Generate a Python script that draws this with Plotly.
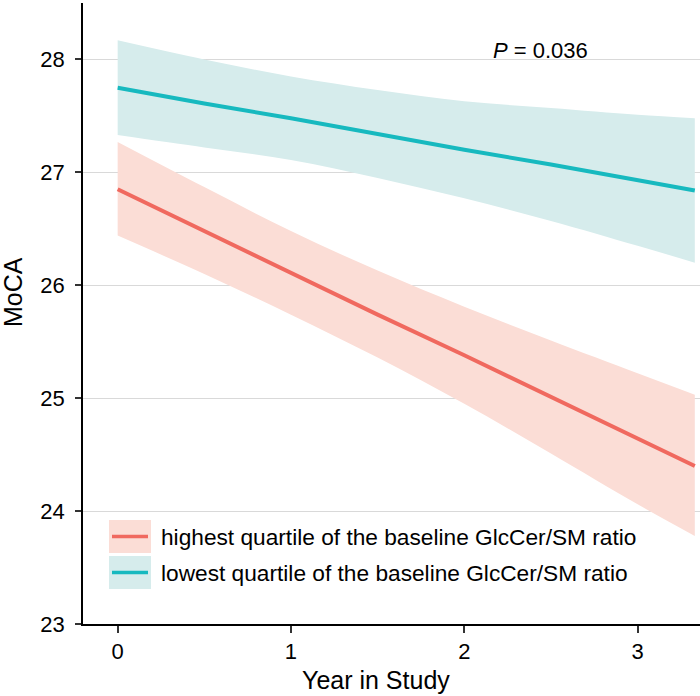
import plotly.graph_objects as go

# ---- data ----
years = [0, 0.5, 1, 1.5, 2, 2.5, 3, 3.33]

high_mean = [26.85, 26.48, 26.11, 25.74, 25.38, 25.01, 24.64, 24.40]
high_upper = [27.27, 26.87, 26.48, 26.13, 25.81, 25.51, 25.22, 25.03]
high_lower = [26.44, 26.10, 25.74, 25.36, 24.95, 24.51, 24.06, 23.78]

low_mean = [27.75, 27.61, 27.48, 27.34, 27.20, 27.07, 26.93, 26.84]
low_upper = [28.17, 28.00, 27.85, 27.73, 27.63, 27.57, 27.51, 27.48]
low_lower = [27.33, 27.22, 27.11, 26.95, 26.77, 26.57, 26.35, 26.20]

x_ticks = [0, 1, 2, 3]
y_ticks = [23, 24, 25, 26, 27, 28]

labels = ["highest quartile of the baseline GlcCer/SM ratio",
          "lowest quartile of the baseline GlcCer/SM ratio"]
p_text = "<i>P</i> = 0.036"

RED = "#F0695F"
TEAL = "#17B9BF"
RED_BAND = "#FBDDD6"
TEAL_BAND = "#D6ECEC"
FONT = "Liberation Sans, Arial, sans-serif"

fig = go.Figure()

def band(upper, lower, color):
    fig.add_trace(go.Scatter(x=years, y=lower, mode="lines", line=dict(width=0, shape="spline"),
                             hoverinfo="skip", showlegend=False))
    fig.add_trace(go.Scatter(x=years, y=upper, mode="lines", line=dict(width=0, shape="spline"),
                             fill="tonexty", fillcolor=color,
                             hoverinfo="skip", showlegend=False))

band(low_upper, low_lower, TEAL_BAND)
band(high_upper, high_lower, RED_BAND)

fig.add_trace(go.Scatter(x=years, y=low_mean, mode="lines",
                         line=dict(color=TEAL, width=4), name=labels[1], showlegend=False))
fig.add_trace(go.Scatter(x=years, y=high_mean, mode="lines",
                         line=dict(color=RED, width=4), name=labels[0], showlegend=False))

# plot area in pixels: x 83..700, y 3..624
L, R, T, B = 83, 700, 3, 624
W, H = R - L, B - T

def px(xp):
    return (xp - L) / W

def py(yp):
    return (B - yp) / H

shapes = []
annotations = []
# manual legend
for i, (fill, line, lab) in enumerate([(RED_BAND, RED, labels[0]), (TEAL_BAND, TEAL, labels[1])]):
    top = 520 + i * 36
    bot = top + 33
    mid = (top + bot) / 2
    shapes.append(dict(type="rect", xref="paper", yref="paper",
                       x0=px(109), x1=px(151), y0=py(bot), y1=py(top),
                       fillcolor=fill, line=dict(width=0), layer="above"))
    shapes.append(dict(type="line", xref="paper", yref="paper",
                       x0=px(112), x1=px(148), y0=py(mid), y1=py(mid),
                       line=dict(color=line, width=3.5), layer="above"))
    annotations.append(dict(xref="paper", yref="paper", x=px(159), y=py(mid),
                            text=lab, showarrow=False, xanchor="left", yanchor="middle",
                            font=dict(size=22.7, color="black", family=FONT)))

annotations.append(dict(xref="paper", yref="paper", x=px(540), y=py(50), text=p_text,
                        showarrow=False, xanchor="center", yanchor="middle",
                        font=dict(size=22, color="black", family=FONT)))
annotations.append(dict(xref="paper", yref="paper", x=px(376), y=py(680), text="Year in Study",
                        showarrow=False, xanchor="center", yanchor="middle",
                        font=dict(size=25, color="black", family=FONT)))
annotations.append(dict(xref="paper", yref="paper", x=px(13), y=py(292), text="MoCA",
                        textangle=-90, showarrow=False, xanchor="center", yanchor="middle",
                        font=dict(size=25, color="black", family=FONT)))

fig.update_layout(
    width=700, height=696,
    margin=dict(l=L, r=700 - R, t=T, b=696 - B),
    paper_bgcolor="white", plot_bgcolor="white",
    font=dict(family=FONT, size=22, color="black"),
    showlegend=False,
    shapes=shapes, annotations=annotations,
)
fig.update_xaxes(range=[-0.2, 3.36], tickvals=x_ticks, ticktext=[str(v) for v in x_ticks],
                 showgrid=False, zeroline=False, showline=True, linecolor="black", linewidth=1.5,
                 ticks="outside", ticklen=7, tickwidth=1.5, tickcolor="#333",
                 tickfont=dict(size=22, family=FONT, color="black"))
fig.update_yaxes(range=[23, 28.5], tickvals=y_ticks, ticktext=[str(v) for v in y_ticks],
                 showgrid=True, gridcolor="#D9D9D9", gridwidth=1, zeroline=False,
                 showline=True, linecolor="black", linewidth=1.5,
                 ticks="outside", ticklen=6, tickwidth=1.5, tickcolor="#333",
                 ticklabelstandoff=6, automargin=False,
                 tickfont=dict(size=22, family=FONT, color="black"))

fig.write_html("out.html", config={"displayModeBar": False},
               post_script="document.body.style.margin='0';document.body.style.overflow='hidden';")
